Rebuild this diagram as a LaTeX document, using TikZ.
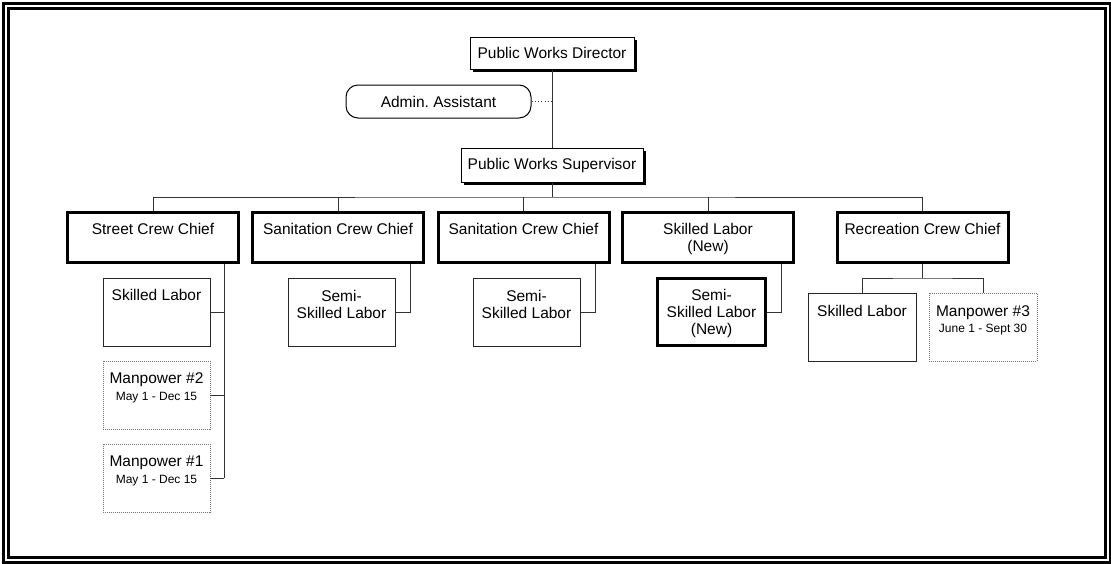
\documentclass[tikz,border=0pt]{standalone}
\usepackage{fontspec}
\setmainfont{Liberation Sans}
\usetikzlibrary{shadows}
\frenchspacing
\newcommand\tb[4]{\parbox[c][#2][t]{#1}{\centering\vspace*{#3}\strut#4}}
\newcommand\smalltxt[1]{{\fontsize{12}{14}\selectfont #1}}
\tikzset{
  every node/.style={font=\fontsize{15.5}{17}\selectfont, inner sep=0pt},
  topbox/.style={draw=black, line width=1pt, fill=white,
     drop shadow={shadow xshift=3pt, shadow yshift=-3pt, opacity=1, fill=black}},
  roundbox/.style={draw=black, line width=1pt, rounded corners=12pt},
  chief/.style={draw=black, line width=3pt},
  thinbox/.style={draw=black!85, line width=1pt},
  thickbox/.style={draw=black, line width=3pt},
  tempbox/.style={draw=black!55, line width=0.9pt, dash pattern=on 1pt off 1pt},
  conn/.style={draw=black!80, line width=1pt},
  dotconn/.style={draw=black!80, line width=1pt, dash pattern=on 1pt off 2.3pt},
  frame/.style={draw=black, line width=3pt}
}
\begin{document}
\begin{tikzpicture}[x=1pt, y=-1pt]
\useasboundingbox (0,0) rectangle (1111,563);
% page frame
\draw[frame] (3.3,3.3) rectangle (1110.3,562);
\draw[frame] (8.5,8.5) rectangle (1105,557);

% top level
\node[topbox, minimum width=164pt, minimum height=32pt] (dir) at (552,53) {Public Works Director};
\node[topbox, minimum width=182pt, minimum height=34pt] (sup) at (552,165) {Public Works Supervisor};
\node[roundbox, minimum width=185pt, minimum height=33pt] (adm) at (438.5,101.5) {Admin.\ Assistant};

% chiefs
\node[chief] (c1) at (153,237.5) {\tb{171pt}{50pt}{10pt}{Street Crew Chief}};
\node[chief] (c2) at (338,237.5) {\tb{171pt}{50pt}{10pt}{Sanitation Crew Chief}};
\node[chief] (c3) at (523.5,237.5) {\tb{171pt}{50pt}{10pt}{Sanitation Crew Chief}};
\node[chief] (c4) at (708,237.5) {\tb{171pt}{50pt}{10pt}{Skilled Labor\\(New)}};
\node[chief] (c5) at (922.5,237.5) {\tb{171pt}{50pt}{10pt}{Recreation Crew Chief}};

% street crew
\node[thinbox] (sl1) at (156.5,312) {\tb{107pt}{68pt}{11pt}{Skilled Labor}};
\node[tempbox] (mp2) at (156.5,395) {\tb{107pt}{68pt}{10.5pt}{Manpower \#2\\\smalltxt{May 1 - Dec 15}}};
\node[tempbox] (mp1) at (156.5,478) {\tb{107pt}{68pt}{10.5pt}{Manpower \#1\\\smalltxt{May 1 - Dec 15}}};

% sanitation
\node[thinbox] (ss2) at (341.5,312) {\tb{107pt}{68pt}{11.5pt}{Semi-\\Skilled Labor}};
\node[thinbox] (ss3) at (526.5,312) {\tb{107pt}{68pt}{11.5pt}{Semi-\\Skilled Labor}};

% skilled labor new
\node[thickbox] (ss4) at (711.5,312) {\tb{108pt}{67pt}{10.5pt}{Semi-\\Skilled Labor\\(New)}};

% recreation
\node[thinbox] (rs) at (862,327) {\tb{108pt}{68pt}{11.5pt}{Skilled Labor}};
\node[tempbox] (mp3) at (983,327) {\tb{108pt}{68pt}{12pt}{Manpower \#3\\[-1pt]\smalltxt{June 1 - Sept 30}}};

% helper coordinates
\coordinate (bus) at (552,197);
\coordinate (x1) at (224,0);
\coordinate (x2) at (410,0);
\coordinate (x3) at (595,0);
\coordinate (x4) at (781,0);
\coordinate (recbus) at (922.5,278);

% connectors
\draw[conn] (dir.south) -- (sup.north);
\draw[dotconn] (adm.east) -- (adm.east -| dir.south);
\draw[conn] (sup.south) -- (bus);
\draw[conn] (c1.north) |- (bus) -| (c5.north);
\draw[conn] (c2.north) -- (c2.north |- bus);
\draw[conn] (c3.north) -- (c3.north |- bus);
\draw[conn] (c4.north) -- (c4.north |- bus);

\draw[conn] (c1.south -| x1) -- (mp1.east -| x1);
\draw[conn] (sl1.east) -- (sl1.east -| x1);
\draw[conn] (mp2.east) -- (mp2.east -| x1);
\draw[conn] (mp1.east) -- (mp1.east -| x1);

\draw[conn] (c2.south -| x2) |- (ss2.east);
\draw[conn] (c3.south -| x3) |- (ss3.east);
\draw[conn] (c4.south -| x4) |- (ss4.east);

\draw[conn] (c5.south) -- (recbus);
\draw[conn] (rs.north) |- (recbus) -| (mp3.north);
\end{tikzpicture}
\end{document}
